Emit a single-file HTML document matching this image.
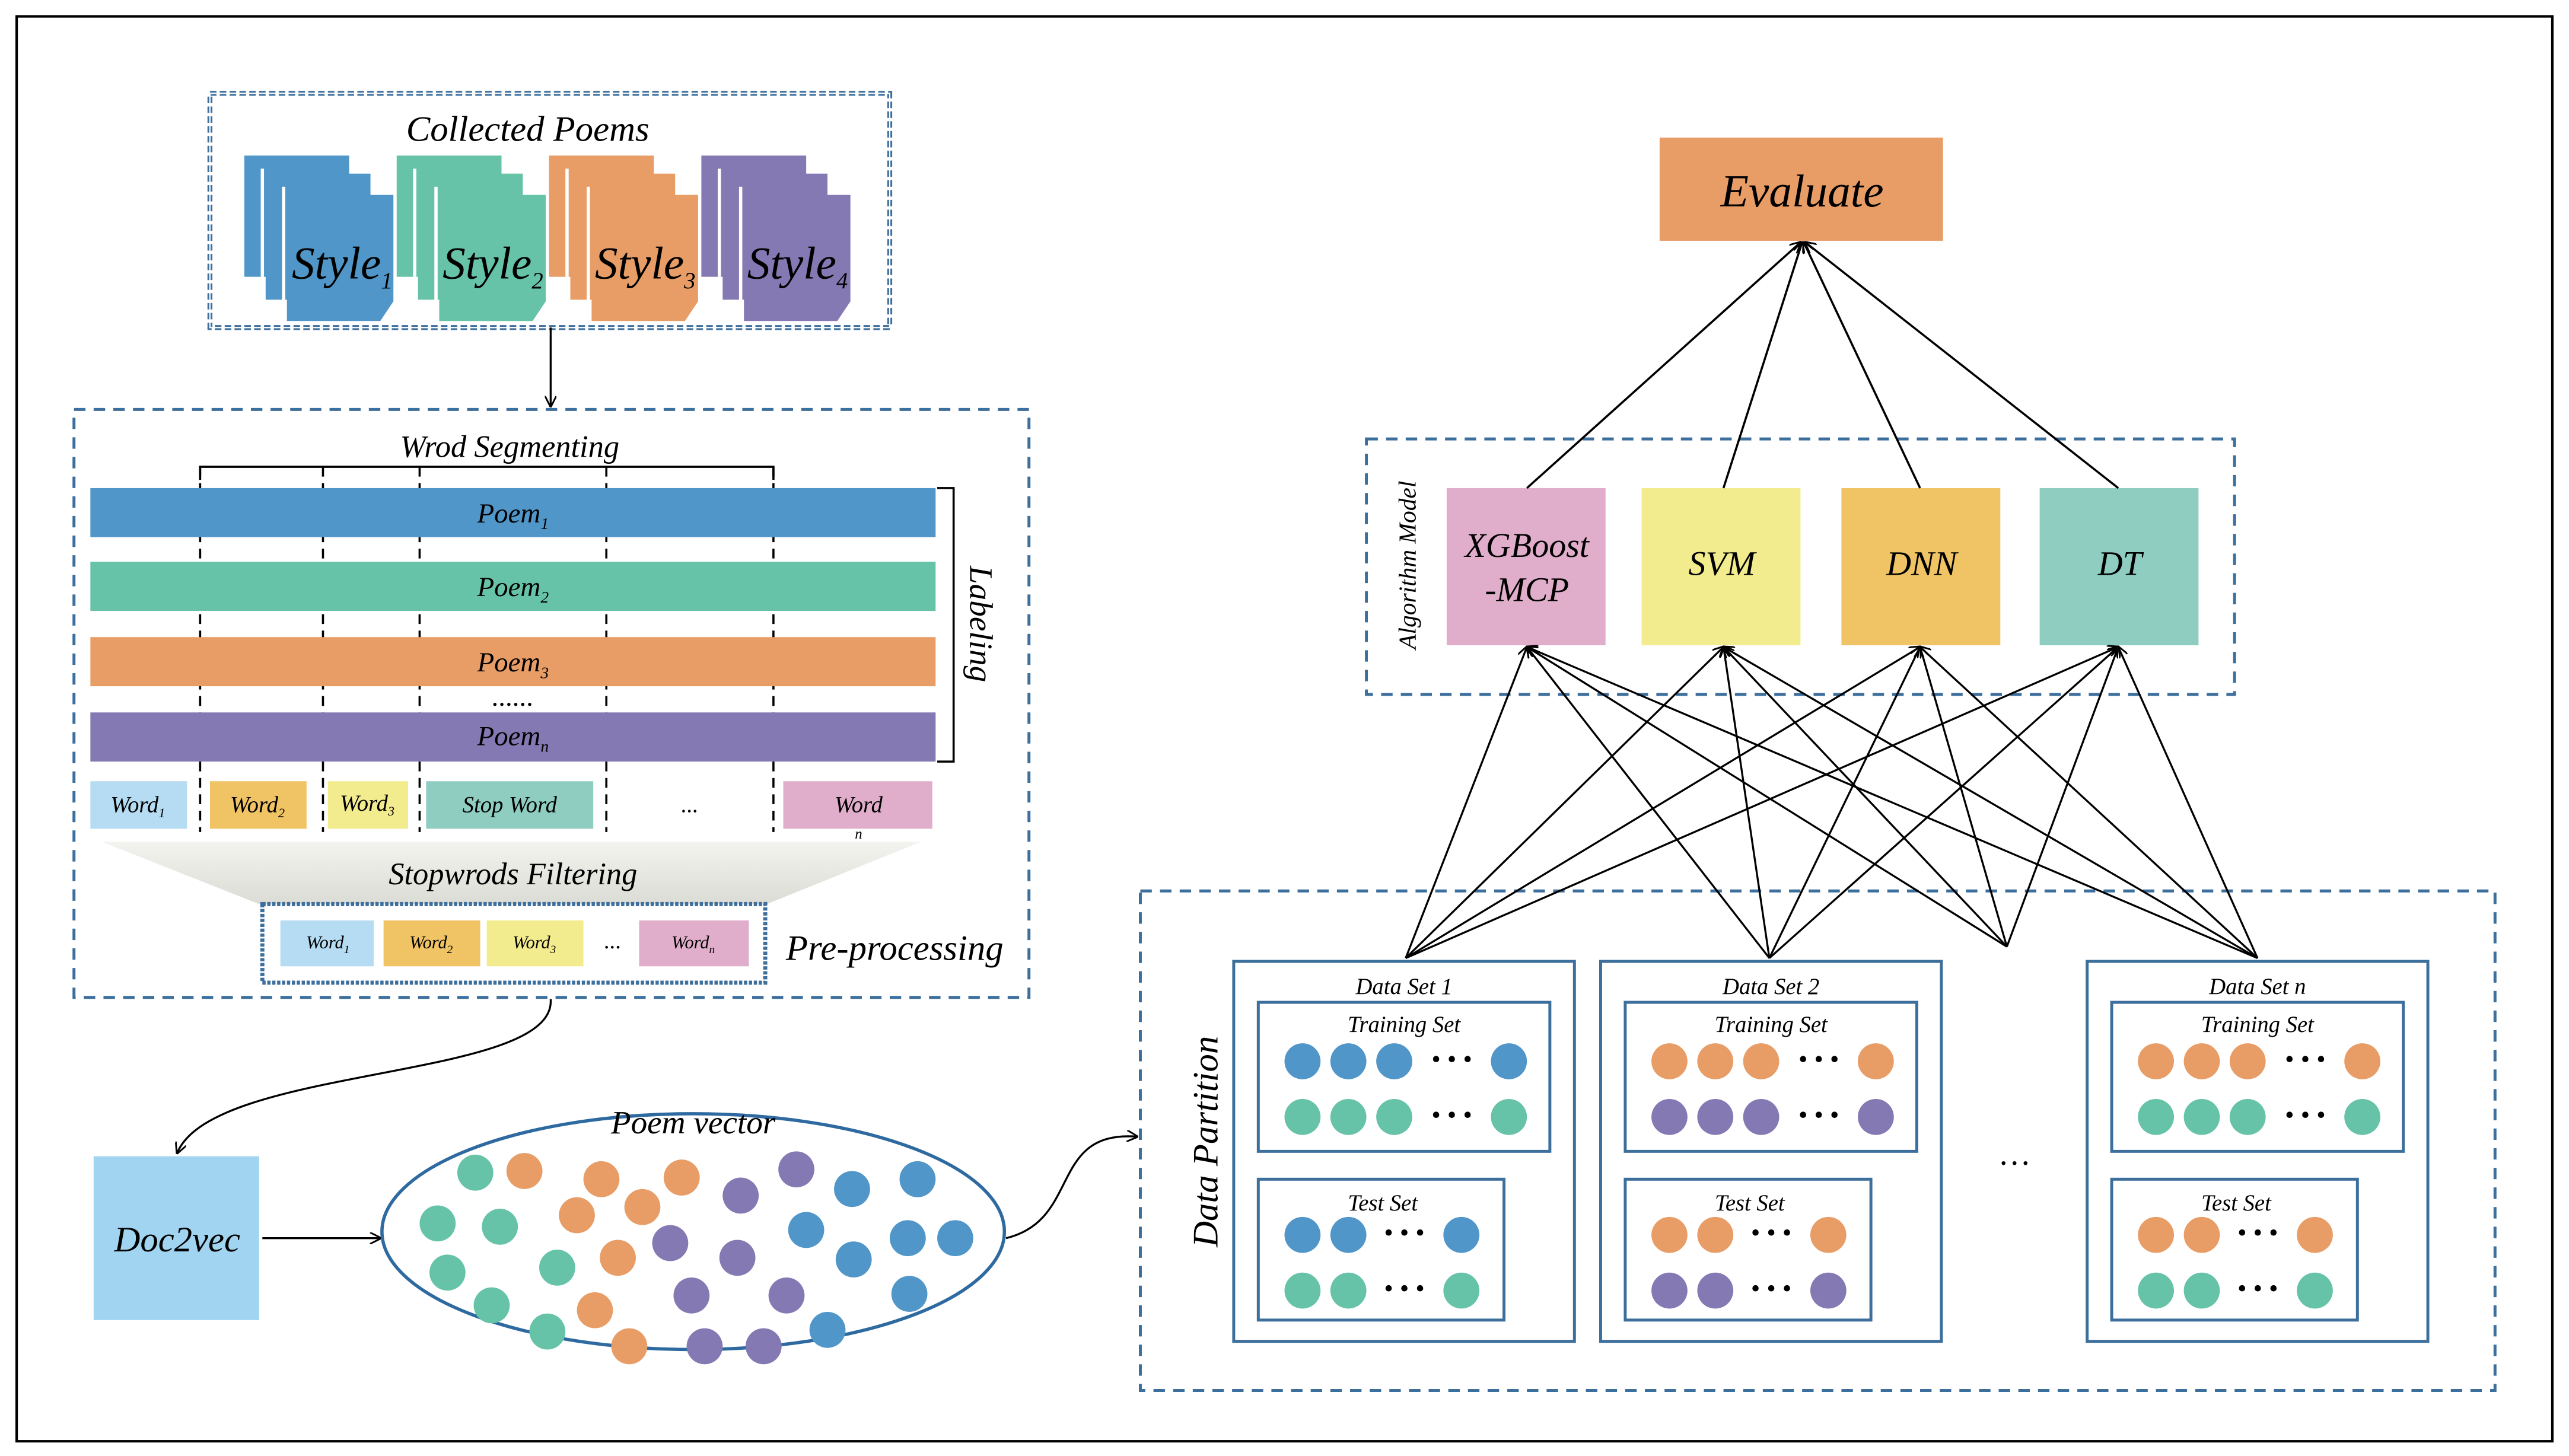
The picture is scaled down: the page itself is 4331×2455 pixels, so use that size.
<!DOCTYPE html>
<html><head><meta charset="utf-8"><style>
html,body{margin:0;padding:0;background:#fff;}
svg{display:block;}
svg text{font-family:"Liberation Serif","DejaVu Serif",serif;font-style:italic;fill:#000;}
</style></head><body>
<svg width="4331" height="2455" viewBox="0 0 1568 889" xmlns="http://www.w3.org/2000/svg" font-family="Liberation Serif, DejaVu Serif, serif" font-style="italic">
<defs>
<marker id="ar" viewBox="0 0 10 10" refX="9" refY="5" markerWidth="7" markerHeight="7" orient="auto-start-reverse" markerUnits="userSpaceOnUse"><path d="M0,0 L10,5 L0,10" fill="none" stroke="#000" stroke-width="1.5"/></marker>
<linearGradient id="tg" x1="0" y1="0" x2="0" y2="1"><stop offset="0" stop-color="#f3f3ef"/><stop offset="1" stop-color="#dcdcd6"/></linearGradient>
</defs>
<rect x="0" y="0" width="1568" height="889" fill="#fff"/>
<rect x="10" y="10" width="1548" height="870" fill="none" stroke="#000" stroke-width="1.5"/>

<rect x="128" y="57" width="415" height="143" fill="none" stroke="#3d6f9c" stroke-width="3" stroke-dasharray="4,2"/>
<rect x="128" y="57" width="415" height="143" fill="none" stroke="#fff" stroke-width="0.8"/>
<text x="322" y="86" font-size="22" text-anchor="middle">Collected Poems</text>
<g>
<rect x="149" y="95" width="64" height="74" fill="#5096c8"/>
<rect x="159" y="103" width="2" height="66" fill="#fff"/>
<rect x="162" y="106" width="64" height="77" fill="#5096c8"/>
<rect x="172" y="114" width="2" height="70" fill="#fff"/>
<path d="M175,119 H240 V184 L232,196 H175 Z" fill="#5096c8"/>
<text x="178" y="170" font-size="28">Style<tspan font-size="14" dy="6">1</tspan></text>

<rect x="242" y="95" width="64" height="74" fill="#66c3a7"/>
<rect x="252" y="103" width="2" height="66" fill="#fff"/>
<rect x="255" y="106" width="64" height="77" fill="#66c3a7"/>
<rect x="265" y="114" width="2" height="70" fill="#fff"/>
<path d="M268,119 H333 V184 L325,196 H268 Z" fill="#66c3a7"/>
<text x="270" y="170" font-size="28">Style<tspan font-size="14" dy="6">2</tspan></text>

<rect x="335" y="95" width="64" height="74" fill="#e89d66"/>
<rect x="345" y="103" width="2" height="66" fill="#fff"/>
<rect x="348" y="106" width="64" height="77" fill="#e89d66"/>
<rect x="358" y="114" width="2" height="70" fill="#fff"/>
<path d="M361,119 H426 V184 L418,196 H361 Z" fill="#e89d66"/>
<text x="363" y="170" font-size="28">Style<tspan font-size="14" dy="6">3</tspan></text>

<rect x="428" y="95" width="64" height="74" fill="#8479b3"/>
<rect x="438" y="103" width="2" height="66" fill="#fff"/>
<rect x="441" y="106" width="64" height="77" fill="#8479b3"/>
<rect x="451" y="114" width="2" height="70" fill="#fff"/>
<path d="M454,119 H519 V184 L511,196 H454 Z" fill="#8479b3"/>
<text x="456" y="170" font-size="28">Style<tspan font-size="14" dy="6">4</tspan></text>
</g>
<line x1="336" y1="200" x2="336" y2="248" stroke="#000" stroke-width="1.2" marker-end="url(#ar)"/>

<rect x="45" y="250" width="583" height="359" fill="none" stroke="#3d6f9c" stroke-width="1.8" stroke-dasharray="7,5"/>
<text x="311" y="279" font-size="19" text-anchor="middle">Wrod Segmenting</text>
<polyline points="122,293 122,285 472,285 472,293" fill="none" stroke="#000" stroke-width="1.3"/>
<g stroke="#000" stroke-width="1.3" stroke-dasharray="6,4">
<line x1="122" y1="285" x2="122" y2="508"/><line x1="197" y1="285" x2="197" y2="508"/>
<line x1="256" y1="285" x2="256" y2="508"/><line x1="370" y1="285" x2="370" y2="508"/>
<line x1="472" y1="285" x2="472" y2="508"/>
</g>
<rect x="55" y="298" width="516" height="30" fill="#5096c8"/>
<rect x="55" y="343" width="516" height="30" fill="#66c3a7"/>
<rect x="55" y="389" width="516" height="30" fill="#e89d66"/>
<rect x="55" y="435" width="516" height="30" fill="#8479b3"/>
<g font-size="17" text-anchor="middle">
<text x="313" y="319">Poem<tspan font-size="10" dy="4">1</tspan></text>
<text x="313" y="364">Poem<tspan font-size="10" dy="4">2</tspan></text>
<text x="313" y="410">Poem<tspan font-size="10" dy="4">3</tspan></text>
<text x="313" y="455">Poem<tspan font-size="10" dy="4">n</tspan></text>
<text x="313" y="431">......</text>
</g>
<polyline points="572,298 582,298 582,465 572,465" fill="none" stroke="#000" stroke-width="1.3"/>
<text transform="translate(592,381) rotate(90)" font-size="20" text-anchor="middle">Labeling</text>

<rect x="55" y="477" width="59" height="29" fill="#b5dcf2"/>
<rect x="128" y="477" width="59" height="29" fill="#f0c464"/>
<rect x="200" y="477" width="49" height="29" fill="#f2ec8e"/>
<rect x="260" y="477" width="102" height="29" fill="#8ecdc0"/>
<rect x="478" y="477" width="91" height="29" fill="#e0aecb"/>
<g font-size="14" text-anchor="middle">
<text x="84" y="496">Word<tspan font-size="8" dy="3">1</tspan></text>
<text x="157" y="496">Word<tspan font-size="8" dy="3">2</tspan></text>
<text x="224" y="495">Word<tspan font-size="8" dy="3">3</tspan></text>
<text x="311" y="496">Stop Word</text>
<text x="421" y="496">...</text>
<text x="524" y="496">Word</text>
<text x="524" y="512" font-size="9">n</text>
</g>
<path d="M62,514 H562 L468,552 H158 Z" fill="url(#tg)"/>
<text x="313" y="540" font-size="19" text-anchor="middle">Stopwrods Filtering</text>
<rect x="160" y="552" width="307" height="48" fill="#fff" stroke="#3d6f9c" stroke-width="2.5" stroke-dasharray="2,1"/>
<rect x="171" y="562" width="57" height="28" fill="#b5dcf2"/>
<rect x="234" y="562" width="59" height="28" fill="#f0c464"/>
<rect x="297" y="562" width="59" height="28" fill="#f2ec8e"/>
<rect x="390" y="562" width="67" height="28" fill="#e0aecb"/>
<g font-size="11" text-anchor="middle">
<text x="200" y="579">Word<tspan font-size="7" dy="3">1</tspan></text>
<text x="263" y="579">Word<tspan font-size="7" dy="3">2</tspan></text>
<text x="326" y="579">Word<tspan font-size="7" dy="3">3</tspan></text>
<text x="374" y="579" font-size="14">...</text>
<text x="423" y="579">Word<tspan font-size="7" dy="3">n</tspan></text>
</g>
<text x="546" y="586" font-size="22" text-anchor="middle">Pre-processing</text>

<path d="M336,610 C340,660 130,650 108,704" fill="none" stroke="#000" stroke-width="1.2" marker-end="url(#ar)"/>
<rect x="57" y="706" width="101" height="100" fill="#a0d4f0"/>
<text x="108" y="764" font-size="22" text-anchor="middle">Doc2vec</text>
<line x1="160" y1="756" x2="232" y2="756" stroke="#000" stroke-width="1.2" marker-end="url(#ar)"/>

<ellipse cx="423" cy="752" rx="190" ry="72" fill="#fff" stroke="#2e6aa0" stroke-width="2"/>
<text x="423" y="692" font-size="20" text-anchor="middle">Poem vector</text>
<g fill="#66c3a7"><circle cx="290" cy="716" r="11"/><circle cx="267" cy="747" r="11"/><circle cx="305" cy="749" r="11"/><circle cx="273" cy="777" r="11"/><circle cx="300" cy="797" r="11"/><circle cx="340" cy="774" r="11"/><circle cx="334" cy="813" r="11"/></g>
<g fill="#e89d66"><circle cx="320" cy="715" r="11"/><circle cx="367" cy="720" r="11"/><circle cx="416" cy="719" r="11"/><circle cx="352" cy="742" r="11"/><circle cx="392" cy="737" r="11"/><circle cx="377" cy="768" r="11"/><circle cx="363" cy="800" r="11"/><circle cx="384" cy="822" r="11"/></g>
<g fill="#8479b3"><circle cx="452" cy="730" r="11"/><circle cx="486" cy="714" r="11"/><circle cx="409" cy="759" r="11"/><circle cx="450" cy="768" r="11"/><circle cx="422" cy="791" r="11"/><circle cx="480" cy="791" r="11"/><circle cx="430" cy="822" r="11"/><circle cx="466" cy="822" r="11"/></g>
<g fill="#5096c8"><circle cx="520" cy="726" r="11"/><circle cx="560" cy="720" r="11"/><circle cx="492" cy="751" r="11"/><circle cx="521" cy="769" r="11"/><circle cx="554" cy="756" r="11"/><circle cx="583" cy="756" r="11"/><circle cx="555" cy="790" r="11"/><circle cx="505" cy="812" r="11"/></g>
<path d="M614,756 C660,745 640,690 694,694" fill="none" stroke="#000" stroke-width="1.2" marker-end="url(#ar)"/>

<rect x="696" y="544" width="827" height="305" fill="none" stroke="#3d6f9c" stroke-width="1.8" stroke-dasharray="7,5"/>
<text transform="translate(743,697) rotate(-90)" font-size="22" text-anchor="middle">Data Partition</text>

<g>
<rect x="753" y="587" width="208" height="232" fill="none" stroke="#3d6f9c" stroke-width="1.8"/>
<text x="857" y="607" font-size="14" text-anchor="middle">Data Set 1</text>
<rect x="768" y="612" width="178" height="91" fill="none" stroke="#3d6f9c" stroke-width="1.8"/>
<text x="857" y="630" font-size="14" text-anchor="middle">Training Set</text>
<rect x="768" y="720" width="150" height="86" fill="none" stroke="#3d6f9c" stroke-width="1.8"/>
<text x="844" y="739" font-size="14" text-anchor="middle">Test Set</text>
</g>
<g fill="#5096c8"><circle cx="795" cy="648" r="11"/><circle cx="823" cy="648" r="11"/><circle cx="851" cy="648" r="11"/><circle cx="921" cy="648" r="11"/><circle cx="795" cy="754" r="11"/><circle cx="823" cy="754" r="11"/><circle cx="892" cy="754" r="11"/></g>
<g fill="#66c3a7"><circle cx="795" cy="682" r="11"/><circle cx="823" cy="682" r="11"/><circle cx="851" cy="682" r="11"/><circle cx="921" cy="682" r="11"/><circle cx="795" cy="788" r="11"/><circle cx="823" cy="788" r="11"/><circle cx="892" cy="788" r="11"/></g>
<g font-size="16" font-style="normal" text-anchor="middle"><text x="886" y="652">• • •</text><text x="886" y="686">• • •</text><text x="857" y="758">• • •</text><text x="857" y="792">• • •</text></g>

<g transform="translate(224,0)">
<rect x="753" y="587" width="208" height="232" fill="none" stroke="#3d6f9c" stroke-width="1.8"/>
<text x="857" y="607" font-size="14" text-anchor="middle">Data Set 2</text>
<rect x="768" y="612" width="178" height="91" fill="none" stroke="#3d6f9c" stroke-width="1.8"/>
<text x="857" y="630" font-size="14" text-anchor="middle">Training Set</text>
<rect x="768" y="720" width="150" height="86" fill="none" stroke="#3d6f9c" stroke-width="1.8"/>
<text x="844" y="739" font-size="14" text-anchor="middle">Test Set</text>
<g fill="#e89d66"><circle cx="795" cy="648" r="11"/><circle cx="823" cy="648" r="11"/><circle cx="851" cy="648" r="11"/><circle cx="921" cy="648" r="11"/><circle cx="795" cy="754" r="11"/><circle cx="823" cy="754" r="11"/><circle cx="892" cy="754" r="11"/></g>
<g fill="#8479b3"><circle cx="795" cy="682" r="11"/><circle cx="823" cy="682" r="11"/><circle cx="851" cy="682" r="11"/><circle cx="921" cy="682" r="11"/><circle cx="795" cy="788" r="11"/><circle cx="823" cy="788" r="11"/><circle cx="892" cy="788" r="11"/></g>
<g font-size="16" font-style="normal" text-anchor="middle"><text x="886" y="652">• • •</text><text x="886" y="686">• • •</text><text x="857" y="758">• • •</text><text x="857" y="792">• • •</text></g>
</g>

<g transform="translate(521,0)">
<rect x="753" y="587" width="208" height="232" fill="none" stroke="#3d6f9c" stroke-width="1.8"/>
<text x="857" y="607" font-size="14" text-anchor="middle">Data Set n</text>
<rect x="768" y="612" width="178" height="91" fill="none" stroke="#3d6f9c" stroke-width="1.8"/>
<text x="857" y="630" font-size="14" text-anchor="middle">Training Set</text>
<rect x="768" y="720" width="150" height="86" fill="none" stroke="#3d6f9c" stroke-width="1.8"/>
<text x="844" y="739" font-size="14" text-anchor="middle">Test Set</text>
<g fill="#e89d66"><circle cx="795" cy="648" r="11"/><circle cx="823" cy="648" r="11"/><circle cx="851" cy="648" r="11"/><circle cx="921" cy="648" r="11"/><circle cx="795" cy="754" r="11"/><circle cx="823" cy="754" r="11"/><circle cx="892" cy="754" r="11"/></g>
<g fill="#66c3a7"><circle cx="795" cy="682" r="11"/><circle cx="823" cy="682" r="11"/><circle cx="851" cy="682" r="11"/><circle cx="921" cy="682" r="11"/><circle cx="795" cy="788" r="11"/><circle cx="823" cy="788" r="11"/><circle cx="892" cy="788" r="11"/></g>
<g font-size="16" font-style="normal" text-anchor="middle"><text x="886" y="652">• • •</text><text x="886" y="686">• • •</text><text x="857" y="758">• • •</text><text x="857" y="792">• • •</text></g>
</g>
<text x="1230" y="711" font-size="20" font-style="normal" text-anchor="middle">…</text>

<rect x="834" y="268" width="530" height="156" fill="none" stroke="#3d6f9c" stroke-width="1.8" stroke-dasharray="7,5"/>
<text transform="translate(864,345) rotate(-90)" font-size="15" text-anchor="middle">Algorithm Model</text>
<rect x="883" y="298" width="97" height="96" fill="#e0aecb"/>
<rect x="1002" y="298" width="97" height="96" fill="#f2ec8e"/>
<rect x="1124" y="298" width="97" height="96" fill="#f0c464"/>
<rect x="1245" y="298" width="97" height="96" fill="#8ecdc0"/>
<g font-size="21" text-anchor="middle">
<text x="932" y="340">XGBoost</text><text x="932" y="367">-MCP</text>
<text x="1051" y="351">SVM</text><text x="1173" y="351">DNN</text><text x="1294" y="351">DT</text>
</g>
<rect x="1013" y="84" width="173" height="63" fill="#e89d66"/>
<text x="1100" y="126" font-size="28" text-anchor="middle">Evaluate</text>
<g stroke="#000" stroke-width="1.3" fill="none" marker-end="url(#ar)">
<line x1="932" y1="298" x2="1099" y2="148"/><line x1="1052" y1="298" x2="1100" y2="148"/>
<line x1="1172" y1="298" x2="1101" y2="148"/><line x1="1293" y1="298" x2="1102" y2="148"/>
</g>
<g stroke="#000" stroke-width="1.2" fill="none" marker-end="url(#ar)">
<line x1="858" y1="585" x2="932" y2="395"/><line x1="858" y1="585" x2="1052" y2="395"/><line x1="858" y1="585" x2="1172" y2="395"/><line x1="858" y1="585" x2="1293" y2="395"/>
<line x1="1080" y1="585" x2="932" y2="395"/><line x1="1080" y1="585" x2="1052" y2="395"/><line x1="1080" y1="585" x2="1172" y2="395"/><line x1="1080" y1="585" x2="1293" y2="395"/>
<line x1="1225" y1="578" x2="932" y2="395"/><line x1="1225" y1="578" x2="1052" y2="395"/><line x1="1225" y1="578" x2="1172" y2="395"/><line x1="1225" y1="578" x2="1293" y2="395"/>
<line x1="1378" y1="585" x2="932" y2="395"/><line x1="1378" y1="585" x2="1052" y2="395"/><line x1="1378" y1="585" x2="1172" y2="395"/><line x1="1378" y1="585" x2="1293" y2="395"/>
</g>
</svg>
</body></html>
